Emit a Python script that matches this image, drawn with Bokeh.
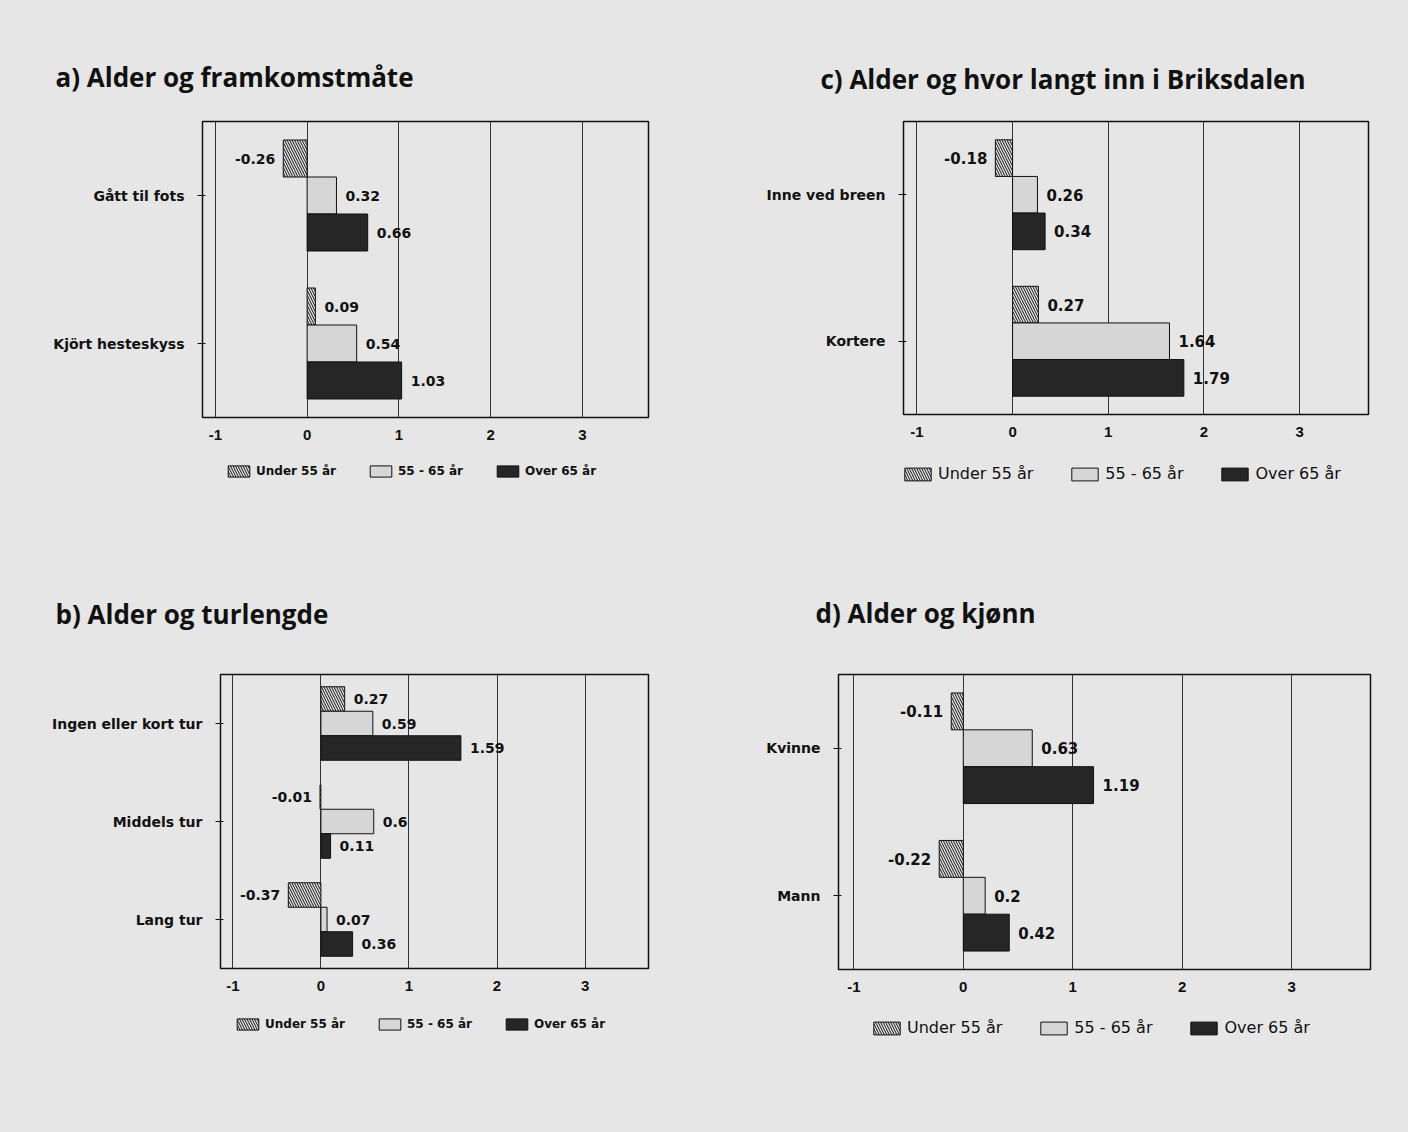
from bokeh.plotting import figure
from bokeh.models import ColumnDataSource, FixedTicker, Legend, LegendItem, Range1d
from bokeh.layouts import column, row
from bokeh.transform import dodge
from bokeh.core.properties import value
from bokeh.embed import file_html
from bokeh.resources import INLINE

# ---------------- data ----------------
LEGEND_LABELS = ["Under 55 år", "55 - 65 år", "Over 65 år"]
X_TICKS = [-1, 0, 1, 2, 3]
X_TICK_LABELS = ["-1", "0", "1", "2", "3"]

a_title = "a) Alder og framkomstmåte"
a_cats = ["Gått til fots", "Kjört hesteskyss"]
a_under55 = [-0.26, 0.09]
a_55_65 = [0.32, 0.54]
a_over65 = [0.66, 1.03]

b_title = "b) Alder og turlengde"
b_cats = ["Ingen eller kort tur", "Middels tur", "Lang tur"]
b_under55 = [0.27, -0.01, -0.37]
b_55_65 = [0.59, 0.6, 0.07]
b_over65 = [1.59, 0.11, 0.36]

c_title = "c) Alder og hvor langt inn i Briksdalen"
c_cats = ["Inne ved breen", "Kortere"]
c_under55 = [-0.18, 0.27]
c_55_65 = [0.26, 1.64]
c_over65 = [0.34, 1.79]

d_title = "d) Alder og kjønn"
d_cats = ["Kvinne", "Mann"]
d_under55 = [-0.11, -0.22]
d_55_65 = [0.63, 0.2]
d_over65 = [1.19, 0.42]

PAPER = "#e6e6e6"
INK = "#111111"
LABEL_FONT = "DejaVu Sans"
AXIS_FONT = "Liberation Sans"
TITLE_FONT = "Open Sans"

STYLES = [
    dict(fill_color="#e4e4e4", hatch_pattern="\\", hatch_color=INK,
         hatch_scale=5, hatch_weight=1, line_color=INK, line_width=1),
    dict(fill_color="#d6d6d6", line_color=INK, line_width=1),
    dict(fill_color="#262626", line_color=INK, line_width=1),
]
OFFSETS = [0.25, 0.0, -0.25]


def chart(title, cats, s1, s2, s3, fw, fh, left, right, top, bottom,
          title_offset, title_standoff, cat_size, val_size):
    n = len(cats)
    ypos = [n - 1 - i for i in range(n)]
    p = figure(frame_width=fw, frame_height=fh,
               x_range=Range1d(-1.14, 3.72), y_range=Range1d(-0.5, n - 0.5),
               output_backend="svg", toolbar_location=None,
               min_border_left=left, min_border_right=right,
               min_border_top=top, min_border_bottom=bottom,
               background_fill_color=PAPER, border_fill_color=PAPER)
    p.outline_line_color = INK
    p.outline_line_width = 1.5

    for vals, off, st in zip([s1, s2, s3], OFFSETS, STYLES):
        src = ColumnDataSource(dict(y=ypos, v=vals))
        p.hbar(y=dodge("y", off, range=p.y_range), left=0, right="v",
               height=0.25, source=src, **st)
        pos = [i for i, v in enumerate(vals) if v >= 0]
        neg = [i for i, v in enumerate(vals) if v < 0]
        for idx, align, xo in ((pos, "left", 9), (neg, "right", -8)):
            if not idx:
                continue
            tsrc = ColumnDataSource(dict(y=[ypos[i] for i in idx],
                                         v=[vals[i] for i in idx],
                                         lab=[f"{vals[i]:g}" for i in idx]))
            p.text(x="v", y=dodge("y", off, range=p.y_range), text="lab",
                   source=tsrc, text_align=align, text_baseline="middle",
                   x_offset=xo, text_font_size=val_size, text_font_style="bold",
                   text_color=INK, text_font=value(LABEL_FONT))

    xa = p.xaxis[0]
    xa.ticker = FixedTicker(ticks=X_TICKS)
    xa.major_label_overrides = {t: s for t, s in zip(X_TICKS, X_TICK_LABELS)}
    xa.axis_line_color = None
    xa.major_tick_line_color = None
    xa.minor_tick_line_color = None
    xa.major_label_text_font = AXIS_FONT
    xa.major_label_text_font_style = "bold"
    xa.major_label_text_font_size = "15px"
    xa.major_label_text_color = INK
    xa.major_label_standoff = 6

    ya = p.yaxis[0]
    ya.ticker = FixedTicker(ticks=ypos)
    ya.major_label_overrides = {y: c for y, c in zip(ypos, cats)}
    ya.axis_line_color = None
    ya.minor_tick_line_color = None
    ya.major_tick_line_color = INK
    ya.major_tick_out = 5
    ya.major_tick_in = 3
    ya.major_label_text_font = LABEL_FONT
    ya.major_label_text_font_style = "bold"
    ya.major_label_text_font_size = cat_size
    ya.major_label_text_color = INK
    ya.major_label_standoff = 13

    p.ygrid.visible = False
    p.xgrid.ticker = FixedTicker(ticks=X_TICKS)
    p.xgrid.grid_line_color = "#333333"
    p.xgrid.grid_line_width = 1

    p.title.text = title
    p.title.align = "left"
    p.title.offset = title_offset
    p.title.standoff = title_standoff
    p.title.text_font = TITLE_FONT
    p.title.text_font_size = "26px"
    p.title.text_font_style = "bold"
    p.title.text_color = INK
    return p


def legend_strip(fw, fh, loc, font_style, font_size, gw, gh, spacing):
    q = figure(frame_width=fw, frame_height=fh, x_range=Range1d(0, 1),
               y_range=Range1d(0, 1), output_backend="svg", toolbar_location=None,
               x_axis_location=None, y_axis_location=None,
               min_border_left=0, min_border_right=0,
               min_border_top=0, min_border_bottom=0,
               background_fill_color=PAPER, border_fill_color=PAPER)
    q.outline_line_color = None
    q.grid.visible = False
    rs = []
    for st in STYLES:
        # legend proxy: one row that lies outside the visible y range
        src = ColumnDataSource(dict(y=[-5], v=[1]))
        rs.append(q.hbar(y="y", left=0, right="v", height=0.1, source=src, **st))
    legend = Legend(items=[LegendItem(label=l, renderers=[r])
                           for l, r in zip(LEGEND_LABELS, rs)],
                    orientation="horizontal", location=loc,
                    background_fill_alpha=0, border_line_color=None,
                    glyph_width=gw, glyph_height=gh, label_standoff=4,
                    label_height=gh, spacing=spacing, padding=4, margin=0,
                    label_text_font=LABEL_FONT, label_text_font_size=font_size,
                    label_text_font_style=font_style, label_text_color=INK)
    q.add_layout(legend, "center")
    return q


pa = chart(a_title, a_cats, a_under55, a_55_65, a_over65,
           446, 296, 202, 52, 120, 29, -147, 54, "14px", "14px")
pc = chart(c_title, c_cats, c_under55, c_55_65, c_over65,
           465, 293, 203, 40, 121, 31, -83, 50, "14px", "15px")
la = legend_strip(700, 103, (225, 70), "bold", "12px", 27, 14, 31)
lc = legend_strip(708, 103, (201, 65), "normal", "16px", 33, 16, 35)

pb = chart(b_title, b_cats, b_under55, b_55_65, b_over65,
           428, 294, 220, 52, 124, 29, -165, 86, "14px", "14px")
pd = chart(d_title, d_cats, d_under55, d_55_65, d_over65,
           532, 295, 138, 38, 122, 30, -23, 88, "14px", "15px")
lb = legend_strip(700, 133, (234, 101), "bold", "12px", 27, 14, 31)
ld = legend_strip(708, 133, (170, 95), "normal", "16px", 33, 16, 35)

bg = {"background-color": PAPER}
layout = column(row(pa, pc, spacing=0, styles=bg), row(la, lc, spacing=0, styles=bg),
                row(pb, pd, spacing=0, styles=bg), row(lb, ld, spacing=0, styles=bg),
                spacing=0, styles=bg)
open("out.html", "w").write(file_html(layout, INLINE))
